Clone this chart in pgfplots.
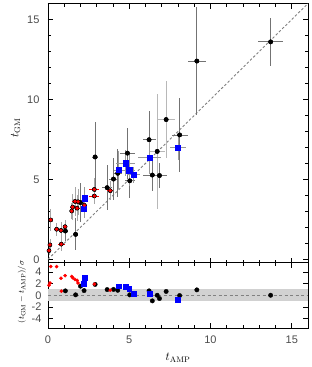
\documentclass[border=0pt]{standalone}
\usepackage[no-math]{fontspec}
\setmainfont{Liberation Sans}
\usepackage{pgfplots}
\usepackage{pgfplotstable}
\pgfplotsset{compat=1.18}

\pgfplotstableread{
x y ex ey
1.07 1.77 0.15 0.6
1.70 1.56 0.15 1.0
2.00 3.55 0.25 1.2
2.22 3.20 0.20 0.5
2.90 6.40 0.20 2.2
3.64 4.48 0.30 1.4
4.03 5.02 0.30 1.3
4.29 5.38 0.25 1.5
4.89 6.64 0.45 1.6
5.03 4.91 0.30 1.1
6.22 7.48 0.40 1.8
6.42 5.27 0.55 1.0
6.86 5.24 0.45 0.8
8.10 7.78 0.50 2.3
9.16 12.40 0.55 3.4
13.70 13.60 0.75 1.5
}\blackdark
\pgfplotstableread{
x y ex ey
6.72 6.75 0.45 3.6
7.27 8.74 0.55 2.4
}\blacklight
\pgfplotstableread{
x y ex ey
2.24 3.82 0.10 0.7
2.22 3.19 0.10 0.6
4.35 5.59 0.30 1.2
4.77 6.01 0.57 0.8
5.00 5.57 0.35 1.0
5.25 5.28 0.40 0.5
6.26 6.35 0.70 1.0
8.00 7.00 0.47 0.8
}\bluetab
\pgfplotstableread{
x y ex ey
0.06 0.54 0.10 0.3
0.12 0.90 0.10 0.4
0.17 2.46 0.10 0.7
0.53 1.88 0.15 0.4
0.80 1.81 0.15 0.5
0.82 0.95 0.20 0.4
1.05 2.04 0.15 0.4
1.46 3.02 0.10 0.5
1.52 3.27 0.15 0.8
1.66 3.62 0.20 0.9
1.79 3.20 0.15 0.8
1.85 3.60 0.15 0.8
2.24 3.38 0.15 0.4
2.85 4.37 0.30 0.7
2.85 3.96 0.30 0.5
3.83 4.29 0.20 0.6
}\redtab
\pgfplotstableread{
x r
1.07 0.75
1.70 0.07
2.00 1.55
2.22 0.80
2.90 1.85
3.64 0.97
4.03 1.00
4.29 0.85
5.03 0.07
6.22 0.75
6.42 -0.96
6.72 0.00
6.86 -0.56
7.27 0.65
8.10 -0.05
9.16 0.92
13.70 0.00
}\blackres
\pgfplotstableread{
x r
2.24 2.95
2.22 2.00
4.35 1.55
4.77 1.49
5.00 1.10
5.25 0.27
6.26 0.20
8.00 -0.82
}\blueres
\pgfplotstableread{
x r
0.17 4.90
0.53 4.90
0.06 1.70
0.12 2.10
0.80 2.90
1.05 3.35
0.82 0.70
1.46 3.20
1.52 3.00
1.66 2.70
1.79 2.55
1.85 2.10
2.85 1.90
3.83 0.85
}\redres

\pgfplotsset{
  common/.style={
    scale only axis, width=260pt,
    xmin=0, xmax=16,
    xtick={0,5,10,15}, minor xtick={1,...,16},
    tick align=inside,
    major tick length=5pt, minor tick length=3pt,
    axis line style={line width=0.8pt},
    every tick/.style={black, line width=0.6pt},
    tick label style={font=\fontsize{11}{12}\selectfont, text=black!70},
    /pgf/number format/assume math mode=true,
    clip=true,
  },
  ebars/.style={only marks, mark=none,
    error bars/.cd, x dir=both, x explicit, y dir=both, y explicit,
    error mark=none, error bar style={line width=0.8pt, #1}},
}

\begin{document}
\begin{tikzpicture}
% main panel
\begin{axis}[common,
  height=259pt, at={(48pt,-262.5pt)}, anchor=south west,
  ymin=-0.2, ymax=16,
  ytick={0,5,10,15}, minor ytick={1,...,16},
  xticklabels={},
  yticklabel style={xshift=-5pt},
  ylabel={\fontsize{12}{13}\selectfont$t_{\mathrm{GM}}$},
  every axis y label/.style={at={(axis description cs:-0.125,0.52)}, anchor=center, rotate=90},
]
\addplot[gray, line width=0.9pt, dash pattern=on 2.5pt off 2pt] coordinates {(0,0) (16,16)};
\addplot[ebars={black!55}] table[x=x, y=y, x error=ex, y error=ey] {\blackdark};
\addplot[ebars={black!28}] table[x=x, y=y, x error=ex, y error=ey] {\blacklight};
\addplot[ebars={black!40}] table[x=x, y=y, x error=ex, y error=ey] {\bluetab};
\addplot[only marks, mark=none, error bars/.cd, y dir=both, y explicit, error mark=none, error bar style={line width=0.8pt, black!35}] table[x=x, y=y, y error=ey] {\redtab};
\addplot[only marks, mark=none, error bars/.cd, x dir=both, x explicit, error mark=none, error bar style={line width=0.8pt, red}] table[x=x, y=y, x error=ex] {\redtab};
\addplot[only marks, mark=*, mark size=2.2pt, black] table[x=x, y=y] {\blackdark};
\addplot[only marks, mark=*, mark size=2.2pt, black] table[x=x, y=y] {\blacklight};
\addplot[only marks, mark=square*, mark size=2.6pt, blue, mark options={draw=blue, fill=blue}] table[x=x, y=y] {\bluetab};
\addplot[only marks, mark=*, mark size=1.5pt, red] table[x=x, y=y] {\redtab};
\end{axis}
% residual panel
\begin{axis}[common,
  height=65.5pt, at={(48pt,-328pt)}, anchor=south west,
  ymin=-5.6, ymax=5.6,
  ytick={-4,-2,0,2,4},
  yticklabel style={xshift=-3pt},
  xticklabel style={yshift=-4pt},
  ylabel={\fontsize{8.5}{9}\selectfont$(t_{\mathrm{GM}}-t_{\mathrm{AMP}})/\sigma$},
  every axis y label/.style={at={(axis description cs:-0.10,0.55)}, anchor=center, rotate=90},
  xlabel={\fontsize{12}{13}\selectfont$t_{\mathrm{AMP}}$},
  every axis x label/.style={at={(axis description cs:0.5,-0.46)}, anchor=center},
]
\fill[black!18] (axis cs:0,-1) rectangle (axis cs:16,1);
\addplot[gray, line width=0.9pt, dash pattern=on 3pt off 2.5pt] coordinates {(0,0) (16,0)};
\addplot[only marks, mark=*, mark size=2.2pt, black] table[x=x, y=r] {\blackres};
\addplot[only marks, mark=square*, mark size=2.4pt, blue, mark options={draw=blue, fill=blue}] table[x=x, y=r] {\blueres};
\addplot[only marks, mark=*, mark size=1.6pt, red] table[x=x, y=r] {\redres};
\end{axis}
\pgfresetboundingbox
\path[use as bounding box] (0pt,0pt) rectangle (312pt,-367pt);
\end{tikzpicture}
\end{document}
